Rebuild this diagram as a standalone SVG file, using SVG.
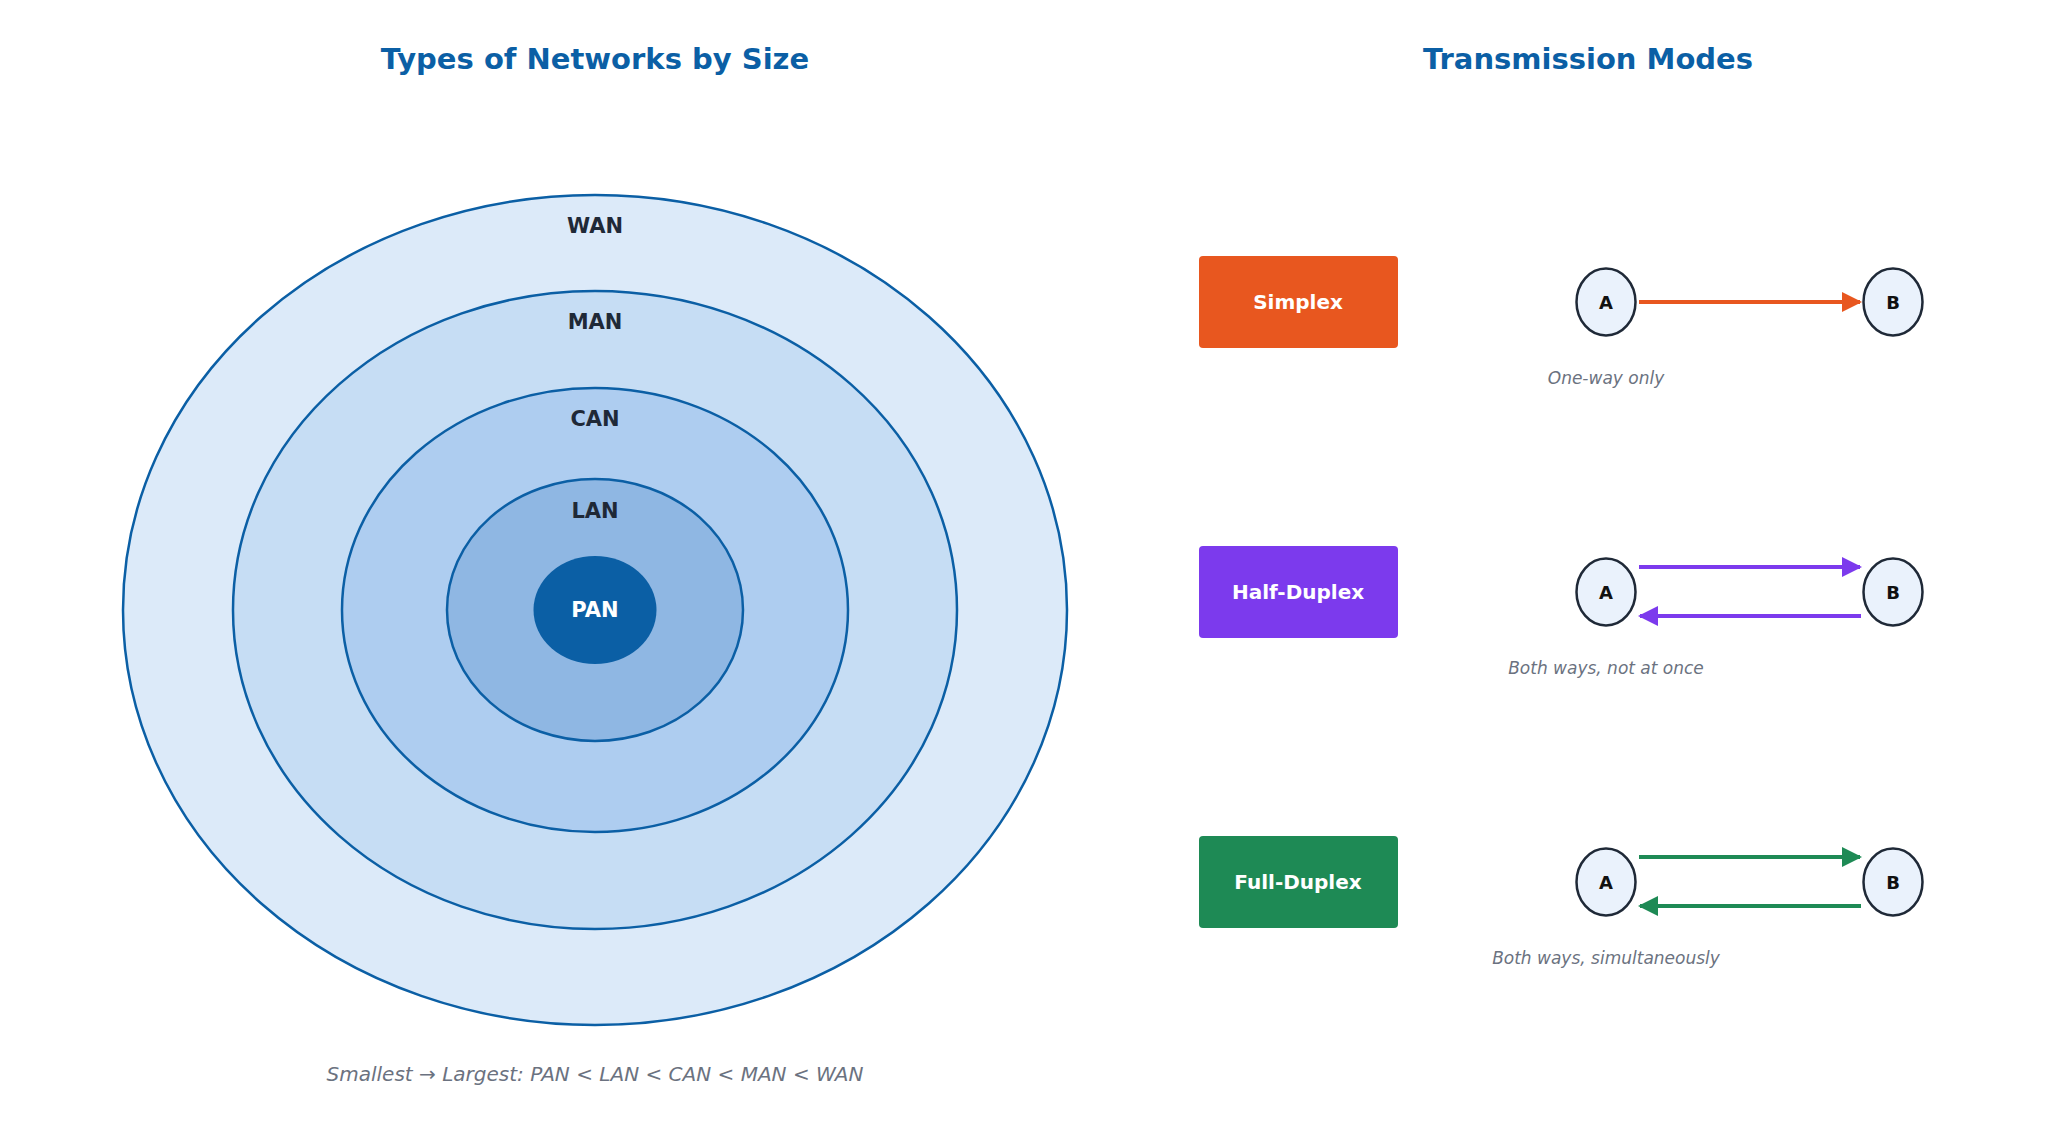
<svg xmlns="http://www.w3.org/2000/svg" width="2048" height="1124" viewBox="0 0 2048 1124">
<style>
.t{font-family:"DejaVu Sans",sans-serif;font-weight:bold;fill:#0b5fa5;font-size:29px;text-anchor:middle}
.ring{stroke:#0b5fa5;stroke-width:2.5}
.rl{font-family:"DejaVu Sans",sans-serif;font-weight:bold;fill:#1f2937;font-size:21px;text-anchor:middle;dominant-baseline:central}
.cap{font-family:"DejaVu Sans",sans-serif;font-style:italic;fill:#6b7280;text-anchor:middle;dominant-baseline:central}
.bl{font-family:"DejaVu Sans",sans-serif;font-weight:bold;fill:#fff;font-size:20px;text-anchor:middle;dominant-baseline:central}
.nd{fill:#eaf2fc;stroke:#1f2937;stroke-width:2.5}
.nl{font-family:"DejaVu Sans",sans-serif;font-weight:bold;fill:#111;font-size:18px;text-anchor:middle;dominant-baseline:central}
</style>
<defs>
<marker id="mo" viewBox="0 0 10 10" refX="9" refY="5" markerWidth="5" markerHeight="5" orient="auto-start-reverse"><path d="M0,0L10,5L0,10z" fill="#e8571f"/></marker>
<marker id="mp" viewBox="0 0 10 10" refX="9" refY="5" markerWidth="5" markerHeight="5" orient="auto-start-reverse"><path d="M0,0L10,5L0,10z" fill="#7c3aed"/></marker>
<marker id="mg" viewBox="0 0 10 10" refX="9" refY="5" markerWidth="5" markerHeight="5" orient="auto-start-reverse"><path d="M0,0L10,5L0,10z" fill="#1e8a55"/></marker>
</defs>
<rect width="2048" height="1124" fill="#fff"/>
<text class="t" x="595" y="69">Types of Networks by Size</text>
<text class="t" x="1588" y="69">Transmission Modes</text>
<g id="wan"><ellipse class="ring" cx="595" cy="610" rx="472" ry="415" fill="#dceaf9"/><text class="rl" x="595" y="226">WAN</text></g>
<g id="man"><ellipse class="ring" cx="595" cy="610" rx="362" ry="319" fill="#c6ddf4"/><text class="rl" x="595" y="322">MAN</text></g>
<g id="can"><ellipse class="ring" cx="595" cy="610" rx="253" ry="222" fill="#aecdf0"/><text class="rl" x="595" y="419">CAN</text></g>
<g id="lan"><ellipse class="ring" cx="595" cy="610" rx="148" ry="131" fill="#8fb7e3"/><text class="rl" x="595" y="511">LAN</text></g>
<g id="pan"><ellipse cx="595" cy="610" rx="61.5" ry="54" fill="#0b5fa5"/><text class="rl" x="595" y="610" style="fill:#fff">PAN</text></g>
<text class="cap" x="595" y="1074" font-size="20">Smallest → Largest:  PAN &lt; LAN &lt; CAN &lt; MAN &lt; WAN</text>
<g id="simplex"><rect x="1199" y="256" width="199" height="92" rx="4" fill="#e8571f"/><text class="bl" x="1298" y="302">Simplex</text></g>
<g id="half"><rect x="1199" y="546" width="199" height="92" rx="4" fill="#7c3aed"/><text class="bl" x="1298" y="592">Half-Duplex</text></g>
<g id="full"><rect x="1199" y="836" width="199" height="92" rx="4" fill="#1e8a55"/><text class="bl" x="1298" y="882">Full-Duplex</text></g>
<g id="s-a"><ellipse class="nd" cx="1606" cy="302" rx="29.5" ry="33.5"/><text class="nl" x="1606" y="302">A</text></g>
<g id="s-b"><ellipse class="nd" cx="1893" cy="302" rx="29.5" ry="33.5"/><text class="nl" x="1893" y="302">B</text></g>
<g id="h-a"><ellipse class="nd" cx="1606" cy="592" rx="29.5" ry="33.5"/><text class="nl" x="1606" y="592">A</text></g>
<g id="h-b"><ellipse class="nd" cx="1893" cy="592" rx="29.5" ry="33.5"/><text class="nl" x="1893" y="592">B</text></g>
<g id="f-a"><ellipse class="nd" cx="1606" cy="882" rx="29.5" ry="33.5"/><text class="nl" x="1606" y="882">A</text></g>
<g id="f-b"><ellipse class="nd" cx="1893" cy="882" rx="29.5" ry="33.5"/><text class="nl" x="1893" y="882">B</text></g>
<g id="connectors" fill="none" stroke-width="4">
<line x1="1639" y1="302" x2="1860" y2="302" stroke="#e8571f" marker-end="url(#mo)"/>
<line x1="1639" y1="567" x2="1860" y2="567" stroke="#7c3aed" marker-end="url(#mp)"/>
<line x1="1861" y1="616" x2="1640" y2="616" stroke="#7c3aed" marker-end="url(#mp)"/>
<line x1="1639" y1="857" x2="1860" y2="857" stroke="#1e8a55" marker-end="url(#mg)"/>
<line x1="1861" y1="906" x2="1640" y2="906" stroke="#1e8a55" marker-end="url(#mg)"/>
</g>
<text class="cap" x="1606" y="378" font-size="17">One-way only</text>
<text class="cap" x="1606" y="668" font-size="17">Both ways, not at once</text>
<text class="cap" x="1606" y="958" font-size="17">Both ways, simultaneously</text>
</svg>
